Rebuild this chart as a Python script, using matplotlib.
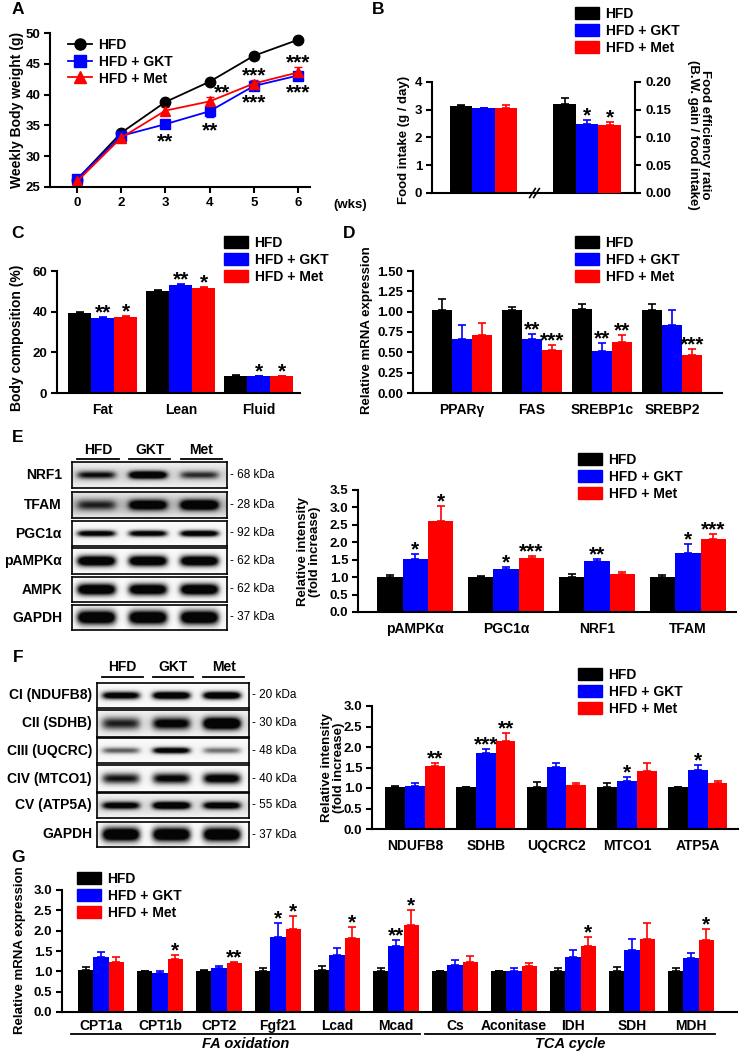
import numpy as np
import matplotlib
matplotlib.use("Agg")
import matplotlib.pyplot as plt
from matplotlib.patches import Patch
from matplotlib.lines import Line2D

W, H = 740, 1052
COLORS = ["#000000", "#0000ff", "#ff0000"]
GROUPS = ["HFD", "HFD + GKT", "HFD + Met"]

plt.rcParams["font.family"] = ["Liberation Sans", "DejaVu Sans"]
plt.rcParams["font.weight"] = "bold"
plt.rcParams["axes.labelweight"] = "bold"

# ---- A: weekly body weight
weeks = ["0", "2", "3", "4", "5", "6"]
bw_hfd = [26.2, 33.8, 38.8, 42.1, 46.3, 48.9]
bw_hfd_err = [0.3, 0.5, 0.3, 0.3, 0.3, 0.3]
bw_gkt = [26.3, 33.3, 35.2, 37.3, 41.4, 43.1]
bw_gkt_err = [0.4, 0.6, 0.7, 1.0, 0.5, 0.6]
bw_met = [25.9, 33.0, 37.4, 38.9, 41.8, 43.6]
bw_met_err = [0.3, 0.3, 0.6, 0.7, 0.5, 0.8]
bw_star_met = ["", "", "", "**", "***", "***"]
bw_star_gkt = ["", "", "**", "**", "***", "***"]

# ---- B: food intake / food efficiency ratio
intake = [3.15, 3.05, 3.08]
intake_err = [0.03, 0.03, 0.10]
fer = [0.160, 0.125, 0.123]
fer_err = [0.011, 0.006, 0.005]
fer_stars = ["", "*", "*"]

# ---- C: body composition
comp_cats = ["Fat", "Lean", "Fluid"]
comp_hfd = [39.5, 50.2, 8.5]
comp_hfd_err = [0.5, 0.3, 0.2]
comp_gkt = [36.8, 53.3, 8.4]
comp_gkt_err = [0.4, 0.4, 0.1]
comp_met = [37.6, 51.8, 8.4]
comp_met_err = [0.5, 0.3, 0.1]
comp_star_gkt = ["**", "**", "*"]
comp_star_met = ["*", "*", "*"]

# ---- D: lipogenic genes
lipo_cats = ["PPARγ", "FAS", "SREBP1c", "SREBP2"]
lipo_hfd = [1.02, 1.02, 1.03, 1.02]
lipo_hfd_err = [0.14, 0.04, 0.06, 0.08]
lipo_gkt = [0.67, 0.66, 0.52, 0.84]
lipo_gkt_err = [0.17, 0.07, 0.10, 0.18]
lipo_met = [0.71, 0.53, 0.63, 0.47]
lipo_met_err = [0.15, 0.06, 0.08, 0.07]
lipo_star_gkt = ["", "**", "**", ""]
lipo_star_met = ["", "***", "**", "***"]

# ---- E: AMPK / biogenesis blots
blotE_names = ["NRF1", "TFAM", "PGC1α", "pAMPKα", "AMPK", "GAPDH"]
blotE_kda = ["68", "28", "92", "62", "62", "37"]
blotE_levels = [[0.55, 0.9, 0.45], [0.4, 0.75, 0.85], [0.8, 0.8, 0.9],
                [1, 1, 1], [1, 0.95, 1], [1, 1, 1]]
blotE_thick = [0.3, 0.4, 0.25, 0.4, 0.45, 0.55]
blotE_bg = [0.12, 0.2, 0.03, 0.03, 0.03, 0.03]
ampk_cats = ["pAMPKα", "PGC1α", "NRF1", "TFAM"]
ampk_hfd = [1.0, 1.0, 1.0, 1.0]
ampk_hfd_err = [0.06, 0.03, 0.08, 0.05]
ampk_gkt = [1.52, 1.22, 1.47, 1.70]
ampk_gkt_err = [0.13, 0.06, 0.06, 0.24]
ampk_met = [2.60, 1.55, 1.10, 2.10]
ampk_met_err = [0.45, 0.05, 0.04, 0.13]
ampk_star_gkt = ["*", "*", "**", "*"]
ampk_star_met = ["*", "***", "", "***"]

# ---- F: OXPHOS blots
blotF_names = ["CI (NDUFB8)", "CII (SDHB)", "CIII (UQCRC)", "CIV (MTCO1)", "CV (ATP5A)", "GAPDH"]
blotF_kda = ["20", "30", "48", "40", "55", "37"]
blotF_levels = [[0.85, 1, 1], [0.5, 0.7, 1], [0.4, 0.85, 0.35],
                [0.6, 0.7, 0.8], [0.75, 0.95, 0.8], [1, 1, 1]]
blotF_thick = [0.3, 0.45, 0.25, 0.4, 0.3, 0.55]
blotF_bg = [0.03, 0.1, 0.03, 0.03, 0.1, 0.03]
ox_cats = ["NDUFB8", "SDHB", "UQCRC2", "MTCO1", "ATP5A"]
ox_hfd = [1.03, 1.02, 1.02, 1.02, 1.02]
ox_hfd_err = [0.01, 0.01, 0.12, 0.10, 0.0]
ox_gkt = [1.04, 1.86, 1.51, 1.17, 1.44]
ox_gkt_err = [0.07, 0.09, 0.11, 0.11, 0.13]
ox_met = [1.54, 2.15, 1.07, 1.42, 1.12]
ox_met_err = [0.06, 0.20, 0.06, 0.18, 0.06]
ox_star_gkt = ["", "***", "", "*", "*"]
ox_star_met = ["**", "**", "", "", ""]

# ---- G: FA oxidation / TCA genes
genes = ["CPT1a", "CPT1b", "CPT2", "Fgf21", "Lcad", "Mcad",
         "Cs", "Aconitase", "IDH", "SDH", "MDH"]
g_hfd = [1.03, 1.00, 1.02, 1.01, 1.03, 1.01, 1.01, 1.01, 1.01, 1.01, 1.01]
g_hfd_err = [0.07, 0.02, 0.01, 0.07, 0.09, 0.07, 0.01, 0.01, 0.06, 0.09, 0.06]
g_gkt = [1.35, 0.95, 1.09, 1.85, 1.39, 1.63, 1.15, 1.01, 1.35, 1.52, 1.32]
g_gkt_err = [0.13, 0.05, 0.05, 0.33, 0.19, 0.15, 0.13, 0.06, 0.18, 0.28, 0.14]
g_met = [1.24, 1.30, 1.20, 2.05, 1.81, 2.15, 1.24, 1.12, 1.63, 1.80, 1.76]
g_met_err = [0.12, 0.11, 0.03, 0.31, 0.28, 0.37, 0.14, 0.09, 0.22, 0.39, 0.27]
g_star_gkt = ["", "", "", "*", "", "**", "", "", "", "", ""]
g_star_met = ["", "*", "**", "*", "*", "*", "", "", "*", "", "*"]
pathways = [("FA oxidation", 0, 5), ("TCA cycle", 6, 10)]

STAR_FS = 15

fig = plt.figure(figsize=(W / 100, H / 100), dpi=100)


def px_axes(x0, y0, x1, y1):
    return fig.add_axes([x0 / W, 1 - y1 / H, (x1 - x0) / W, (y1 - y0) / H])


def ftext(x, y, s, **kw):
    fig.text(x / W, 1 - y / H, s, **kw)


def style(ax):
    for s in ["top", "right"]:
        ax.spines[s].set_visible(False)
    for s in ["left", "bottom"]:
        ax.spines[s].set_linewidth(1.5)
    ax.tick_params(width=1.5, length=4, labelsize=9.5, pad=3)


def legend_at(x, y, handles, fs=10):
    fig.legend(handles=handles, labels=GROUPS, loc="upper left",
               bbox_to_anchor=(x / W, 1 - y / H), bbox_transform=fig.transFigure,
               frameon=False, fontsize=fs, handlelength=1.7, handleheight=0.9,
               handletextpad=0.5, labelspacing=0.2, borderpad=0, borderaxespad=0)


patches = [Patch(facecolor=c, edgecolor=c) for c in COLORS]


def star(ax, s, xy, dx=0, below=False):
    if below:
        ax.annotate(s, xy, xytext=(dx, -3), textcoords="offset points",
                    ha="center", va="top", fontsize=STAR_FS)
    else:
        ax.annotate(s, xy, xytext=(dx, -1), textcoords="offset points",
                    ha="center", va="baseline", fontsize=STAR_FS)


def bars3(ax, cats, vals, errs, stars, width, cat_fs=10):
    x = np.arange(len(cats))
    for k in range(3):
        xs = x + (k - 1) * width
        v = np.array(vals[k])
        e = np.array(errs[k])
        ax.bar(xs, v, width, color=COLORS[k], linewidth=0, zorder=2)
        ax.errorbar(xs, v, yerr=[np.zeros(len(v)), e], fmt="none", ecolor=COLORS[k],
                    elinewidth=1.2, capsize=3, capthick=1.2, zorder=3)
        if stars[k] is None:
            continue
        for xi, vi, ei, s in zip(xs, v, e, stars[k]):
            if s:
                star(ax, s, (xi, vi + ei))
    ax.set_xticks(x)
    ax.set_xticklabels(cats, fontsize=cat_fs)
    ax.tick_params(axis="x", length=0, pad=7)


def blot_img(levels, thick, bg):
    xs = np.linspace(0, 3, 240)
    ys = np.linspace(-1, 1, 40)
    X, Y = np.meshgrid(xs, ys)
    dark = bg * np.exp(-(Y / 0.9) ** 2)
    for i, lv in enumerate(levels):
        c = i + 0.47
        dark = dark + lv * np.exp(-((X - c) / 0.37) ** 6) * np.exp(-(Y / thick) ** 2)
    return 1 - np.clip(dark * 1.5, 0, 0.98)


def draw_blot(names, kda, levels, thick, bg, x0, x1, rows, lab_x, head_y, line_y):
    for name, kd, lv, th, b, (y0, y1) in zip(names, kda, levels, thick, bg, rows):
        ax = px_axes(x0, y0, x1, y1)
        ax.imshow(blot_img(lv, th, b), cmap="gray", vmin=0, vmax=1, aspect="auto",
                  extent=(0, 3, -1, 1))
        ax.set_xticks([])
        ax.set_yticks([])
        for s in ax.spines.values():
            s.set_linewidth(1.2)
        yc = (y0 + y1) / 2
        ftext(lab_x, yc, name, ha="right", va="center", fontsize=10)
        ftext(x1 + 3, yc, "- " + kd + " kDa", ha="left", va="center",
              fontsize=8.5, fontweight="normal")
    lane = (x1 - x0) / 3
    for i, g in enumerate(["HFD", "GKT", "Met"]):
        cx = x0 + lane * (i + 0.5)
        ftext(cx, head_y, g, ha="center", va="center", fontsize=10)
        fig.add_artist(Line2D([(cx - lane * 0.4) / W, (cx + lane * 0.4) / W],
                              [1 - line_y / H, 1 - line_y / H], color="black", lw=1.3))


# ---------------- A
axA = px_axes(50, 33, 310, 187)
style(axA)
xA = np.arange(len(weeks))
markers = ["o", "s", "^"]
for vals, errs, c, m in zip([bw_hfd, bw_gkt, bw_met], [bw_hfd_err, bw_gkt_err, bw_met_err],
                            COLORS, markers):
    axA.errorbar(xA, vals, yerr=errs, color=c, marker=m, markersize=7.5, lw=1.3,
                 elinewidth=1.2, capsize=3)
for xi, v, e, s in zip(xA, bw_met, bw_met_err, bw_star_met):
    if s:
        # the week-4 stars sit to the right of the HFD marker
        star(axA, s, (xi, v + e), dx=9 if xi == 3 else 0)
for xi, v, e, s in zip(xA, bw_gkt, bw_gkt_err, bw_star_gkt):
    if s:
        star(axA, s, (xi, v - e), below=True)
axA.set_xlim(-0.61, 5.27)
axA.set_ylim(25, 50)
axA.set_yticks(np.arange(25, 51, 5))
axA.set_xticks(xA)
axA.set_xticklabels(weeks)
ftext(333, 205, "(wks)", ha="left", va="center", fontsize=9.5)
ftext(17, 110, "Weekly Body weight (g)", rotation=90, ha="center", va="center", fontsize=10)
handlesA = [Line2D([0], [0], color=c, marker=m, markersize=8, lw=1.3)
            for c, m in zip(COLORS, markers)]
legend_at(68, 38, handlesA)

# ---------------- B
axB = px_axes(432, 82, 635, 193)
style(axB)
axB2 = axB.twinx()
for s in ["top", "left", "bottom"]:
    axB2.spines[s].set_visible(False)
axB2.spines["right"].set_linewidth(1.5)
axB2.tick_params(width=1.5, length=4, labelsize=9.5)
x1 = np.arange(3)
x2 = np.arange(3) + 4.6
for k in range(3):
    axB.bar(x1[k], intake[k], 1.0, color=COLORS[k], linewidth=0, zorder=2)
    axB.errorbar(x1[k], intake[k], yerr=[[0], [intake_err[k]]], ecolor=COLORS[k],
                 fmt="none", elinewidth=1.2, capsize=3, capthick=1.2, zorder=3)
    axB2.bar(x2[k], fer[k], 1.0, color=COLORS[k], linewidth=0, zorder=2)
    axB2.errorbar(x2[k], fer[k], yerr=[[0], [fer_err[k]]], ecolor=COLORS[k],
                  fmt="none", elinewidth=1.2, capsize=3, capthick=1.2, zorder=3)
    if fer_stars[k]:
        star(axB2, fer_stars[k], (x2[k], fer[k] + fer_err[k]))
axB.set_xlim(-1.29, 7.73)
axB.set_ylim(0, 4)
axB.set_yticks(range(5))
axB2.set_ylim(0, 0.2)
axB2.set_yticks(np.arange(0, 0.201, 0.05))
axB2.set_yticklabels([f"{t:.2f}" for t in np.arange(0, 0.201, 0.05)])
axB.set_xticks([])
tr = axB.get_xaxis_transform()
for dx in [0, 0.18]:
    axB.plot([3.05 + dx, 3.3 + dx], [-0.04, 0.04], color="black", lw=1.2,
             transform=tr, clip_on=False)
ftext(404, 140, "Food intake (g / day)", rotation=90, ha="center", va="center", fontsize=9.5)
ftext(699, 135, "Food efficiency ratio\n(B.W. gain / food intake)", rotation=270,
      ha="center", va="center", fontsize=9.5, linespacing=1.1)
legend_at(575, 7, patches)

# ---------------- C
axC = px_axes(57, 271, 300, 393)
style(axC)
bars3(axC, comp_cats, [comp_hfd, comp_gkt, comp_met],
      [comp_hfd_err, comp_gkt_err, comp_met_err],
      [None, comp_star_gkt, comp_star_met], 0.295)
axC.set_xlim(-0.59, 2.53)
axC.set_ylim(0, 60)
axC.set_yticks([0, 20, 40, 60])
ftext(17, 338, "Body composition (%)", rotation=90, ha="center", va="center", fontsize=10)
legend_at(224, 236, patches)

# ---------------- D
axD = px_axes(413, 271, 722, 393)
style(axD)
bars3(axD, lipo_cats, [lipo_hfd, lipo_gkt, lipo_met],
      [lipo_hfd_err, lipo_gkt_err, lipo_met_err],
      [None, lipo_star_gkt, lipo_star_met], 0.286)
axD.set_xlim(-0.7, 3.71)
axD.set_ylim(0, 1.5)
yt = np.arange(0, 1.51, 0.25)
axD.set_yticks(yt)
axD.set_yticklabels([f"{t:.2f}" for t in yt])
ftext(367, 330, "Relative mRNA expression", rotation=90, ha="center", va="center", fontsize=9.5)
legend_at(575, 236, patches)

# ---------------- E
draw_blot(blotE_names, blotE_kda, blotE_levels, blotE_thick, blotE_bg, 72, 227,
          [(462, 488), (492, 518), (521, 546), (548, 574), (577, 602), (605, 630)],
          62, 450, 459)
axE = px_axes(358, 490, 736, 612)
style(axE)
bars3(axE, ampk_cats, [ampk_hfd, ampk_gkt, ampk_met],
      [ampk_hfd_err, ampk_gkt_err, ampk_met_err],
      [None, ampk_star_gkt, ampk_star_met], 0.28)
axE.set_xlim(-0.63, 3.53)
axE.set_ylim(0, 3.5)
yt = np.arange(0, 3.51, 0.5)
axE.set_yticks(yt)
axE.set_yticklabels([f"{t:.1f}" for t in yt])
ftext(309, 552, "Relative intensity\n(fold increase)", rotation=90, ha="center",
      va="center", fontsize=9.5, linespacing=1.1)
legend_at(578, 453, patches)

# ---------------- F
draw_blot(blotF_names, blotF_kda, blotF_levels, blotF_thick, blotF_bg, 97, 249,
          [(683, 708), (710, 737), (738, 763), (765, 792), (793, 818), (822, 847)],
          92, 667, 677)
axF = px_axes(372, 706, 738, 829)
style(axF)
bars3(axF, ox_cats, [ox_hfd, ox_gkt, ox_met], [ox_hfd_err, ox_gkt_err, ox_met_err],
      [None, ox_star_gkt, ox_star_met], 0.28)
axF.set_xlim(-0.61, 4.57)
axF.set_ylim(0, 3.0)
yt = np.arange(0, 3.01, 0.5)
axF.set_yticks(yt)
axF.set_yticklabels([f"{t:.1f}" for t in yt])
ftext(333, 768, "Relative intensity\n(fold increase)", rotation=90, ha="center",
      va="center", fontsize=9.5, linespacing=1.1)
legend_at(578, 668, patches)

# ---------------- G
axG = px_axes(62, 890, 737, 1012)
style(axG)
bars3(axG, genes, [g_hfd, g_gkt, g_met], [g_hfd_err, g_gkt_err, g_met_err],
      [None, g_star_gkt, g_star_met], 0.26)
axG.set_xlim(-0.66, 10.78)
axG.set_ylim(0, 3.0)
yt = np.arange(0, 3.01, 0.5)
axG.set_yticks(yt)
axG.set_yticklabels([f"{t:.1f}" for t in yt])
axG.tick_params(axis="x", pad=5)
trG = matplotlib.transforms.blended_transform_factory(axG.transData, fig.transFigure)
for name, i0, i1 in pathways:
    a, b = i0 - 0.5, i1 + 0.4
    axG.plot([a, b], [1 - 1034 / H] * 2, color="black", lw=1.3, transform=trG, clip_on=False)
    axG.text((a + b) / 2, 1 - 1044 / H, name, transform=trG, ha="center", va="center",
             fontsize=10.5, style="italic")
ftext(20, 950, "Relative mRNA expression", rotation=90, ha="center", va="center", fontsize=9.5)
legend_at(77, 872, patches)

# panel letters
for lab, x, y in [("A", 18, 10), ("B", 378, 10), ("C", 18, 233), ("D", 349, 233),
                  ("E", 18, 438), ("F", 18, 657), ("G", 18, 857)]:
    ftext(x, y, lab, ha="center", va="center", fontsize=12.5)

fig.savefig("out.png", dpi=100)
